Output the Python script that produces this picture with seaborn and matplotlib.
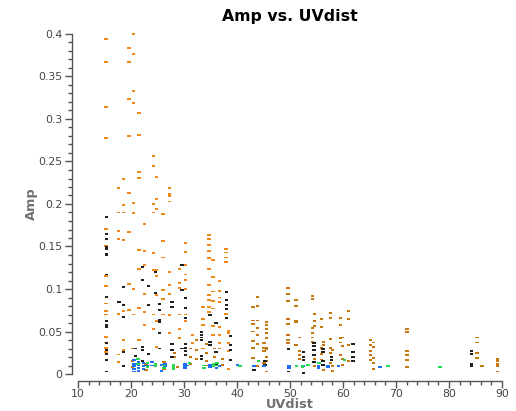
import matplotlib
matplotlib.use("Agg")
import matplotlib.pyplot as plt
from matplotlib.ticker import MultipleLocator, FormatStrFormatter
import seaborn as sns
import pandas as pd

# ---- data ----
uv_orange = ([15.3]*15 + [17.6]*7 + [18.6]*7 + [19.6]*8 + [20.5]*8 + [21.5]*8 + [22.6]*6 +
             [24.3]*8 + [24.8]*8 + [26.0]*6 + [27.3]*9 + [29.1]*6 + [30.3]*8 + [31.6]*2 +
             [33.6]*4 + [34.7]*11 + [35.5]*7 + [36.7]*8 + [37.9]*5 + [38.4]*5)
amp_orange = [0.394, 0.367, 0.314, 0.278, 0.171, 0.151, 0.115, 0.104, 0.083, 0.074, 0.070, 0.044, 0.037, 0.031, 0.026,
              0.219, 0.190, 0.168, 0.159, 0.071, 0.023, 0.014,
              0.229, 0.199, 0.190, 0.158, 0.074, 0.040, 0.028,
              0.384, 0.367, 0.324, 0.280, 0.213, 0.167, 0.106, 0.075,
              0.400, 0.376, 0.333, 0.319, 0.201, 0.189, 0.100, 0.070,
              0.307, 0.281, 0.238, 0.231, 0.146, 0.124, 0.078, 0.040,
              0.176, 0.145, 0.128, 0.094, 0.073, 0.058,
              0.256, 0.245, 0.200, 0.190, 0.142, 0.122, 0.070, 0.053,
              0.232, 0.206, 0.194, 0.122, 0.115, 0.093, 0.062, 0.032,
              0.188, 0.156, 0.137, 0.099, 0.088, 0.070,
              0.219, 0.212, 0.209, 0.203, 0.120, 0.105, 0.094, 0.069, 0.048,
              0.124, 0.107, 0.101, 0.070, 0.053, 0.042,
              0.154, 0.144, 0.128, 0.117, 0.111, 0.100, 0.070, 0.062,
              0.046, 0.036,
              0.079, 0.065, 0.058, 0.030,
              0.164, 0.159, 0.152, 0.145, 0.136, 0.124, 0.105, 0.093, 0.087, 0.079, 0.073,
              0.134, 0.114, 0.097, 0.086, 0.077, 0.056, 0.046,
              0.109, 0.098, 0.090, 0.085, 0.055, 0.046, 0.036, 0.030,
              0.147, 0.143, 0.137, 0.132, 0.071,
              0.051, 0.048, 0.036, 0.027, 0.006]

uv_dark = ([20.3]*3 + [22.8]*2 + [24.5] + [26.2]*2 + [28.2]*2 + [28.8] + [31.2]*3 + [32.4]*3 +
           [34.2]*4 + [35.8]*2 + [37.3]*2 +
           [43.0]*7 + [43.9]*7 + [45.1]*4 + [45.6]*10 + [49.6]*8 + [51.1]*5 + [51.8]*4 +
           [54.2]*6 + [54.6]*5 + [55.9]*5 + [56.3]*3 + [57.6]*6 + [58.0]*3 + [59.5]*5 +
           [59.9]*4 + [61.0]*4 + [65.2]*5 + [65.7]*5 + [72.1]*6 + [85.3]*4 + [86.2] + [89.1]*5)
amp_dark = [0.030, 0.015, 0.008, 0.012, 0.005, 0.010, 0.014, 0.006, 0.025, 0.020, 0.008,
            0.030, 0.020, 0.012, 0.040, 0.028, 0.018,
            0.035, 0.025, 0.015, 0.010, 0.030, 0.020, 0.018, 0.011,
            0.079, 0.063, 0.059, 0.050, 0.039, 0.031, 0.019,
            0.091, 0.080, 0.063, 0.054, 0.046, 0.035, 0.009,
            0.036, 0.031, 0.027, 0.013,
            0.061, 0.058, 0.053, 0.048, 0.042, 0.031, 0.029, 0.020, 0.015, 0.003,
            0.101, 0.094, 0.086, 0.065, 0.059, 0.046, 0.040, 0.036,
            0.087, 0.080, 0.063, 0.061, 0.034,
            0.043, 0.027, 0.022, 0.018,
            0.092, 0.088, 0.054, 0.048, 0.043, 0.038,
            0.071, 0.062, 0.056, 0.018, 0.009,
            0.065, 0.055, 0.031, 0.024, 0.017,
            0.038, 0.034, 0.005,
            0.072, 0.066, 0.041, 0.031, 0.025, 0.013,
            0.028, 0.009, 0.004,
            0.066, 0.058, 0.042, 0.037, 0.022,
            0.043, 0.033, 0.018, 0.011,
            0.074, 0.065, 0.034, 0.015,
            0.040, 0.034, 0.027, 0.022, 0.016,
            0.037, 0.032, 0.019, 0.013, 0.006,
            0.053, 0.049, 0.027, 0.022, 0.016, 0.008,
            0.043, 0.037, 0.025, 0.019,
            0.009,
            0.018, 0.015, 0.012, 0.009, 0.003]

uv_black = ([15.4]*17 + [17.7] + [18.6]*5 + [20.8]*2 + [22.2]*5 + [23.3]*3 + [24.6]*2 +
            [25.4]*6 + [27.7]*5 + [29.6]*3 + [30.3]*7 + [33.3]*6 + [34.9]*3 + [36.0]*3 +
            [38.0]*5 + [38.8]*4 + [43.2] + [45.3]*2 + [49.7]*2 + [52.5]*4 + [54.5]*5 +
            [56.2]*4 + [57.8]*2 + [61.9]*4 + [84.3]*4)
amp_black = [0.185, 0.165, 0.159, 0.149, 0.147, 0.141, 0.140, 0.117, 0.091, 0.062, 0.058, 0.055,
             0.036, 0.028, 0.024, 0.016, 0.003,
             0.085,
             0.102, 0.081, 0.067, 0.026, 0.009,
             0.030, 0.021,
             0.126, 0.111, 0.032, 0.028, 0.015,
             0.104, 0.081, 0.024,
             0.095, 0.120,
             0.082, 0.075, 0.064, 0.061, 0.048, 0.030,
             0.085, 0.079, 0.035, 0.028, 0.020,
             0.128, 0.099, 0.030,
             0.089, 0.078, 0.066, 0.035, 0.031, 0.027, 0.022,
             0.049, 0.043, 0.021, 0.018, 0.040, 0.046,
             0.069, 0.038, 0.034,
             0.060, 0.026, 0.012,
             0.096, 0.087, 0.081, 0.076, 0.066,
             0.045, 0.034, 0.028, 0.016,
             0.005,
             0.015, 0.011,
             0.029, 0.003,
             0.026, 0.020, 0.016, 0.001,
             0.036, 0.033, 0.028, 0.022, 0.014,
             0.029, 0.026, 0.015, 0.011,
             0.020, 0.016,
             0.035, 0.026, 0.020, 0.015,
             0.027, 0.024, 0.012, 0.009]

uv_blue = ([20.6]*5 + [21.4]*4 + [22.4]*3 + [23.0] + [24.0]*2 + [25.8]*2 + [26.4]*2 +
           [30.2]*3 + [30.7] + [34.9]*2 + [36.1]*2 + [36.7] + [40.1] + [43.2] + [45.1] +
           [49.8]*2 + [52.6] + [55.4]*2 + [57.2]*2 + [59.2] + [67.0])
amp_blue = [0.016, 0.012, 0.009, 0.006, 0.003,
            0.014, 0.011, 0.007, 0.004,
            0.013, 0.009, 0.006,
            0.010,
            0.014, 0.010,
            0.011, 0.004,
            0.012, 0.009,
            0.012, 0.009, 0.007,
            0.010,
            0.011, 0.008,
            0.010, 0.007,
            0.009, 0.011, 0.009, 0.009,
            0.007, 0.009, 0.009,
            0.009, 0.007, 0.010, 0.008, 0.009, 0.008]

uv_green = ([21.3]*2 + [23.1]*2 + [24.6]*2 + [26.2]*2 + [28.0]*3 + [31.0] + [33.8]*2 +
            [35.6]*2 + [36.2]*2 + [40.6] + [44.1] + [51.2] + [52.4]*2 + [53.4] + [55.5] +
            [60.3] + [68.5] + [78.3])
amp_green = [0.018, 0.012, 0.013, 0.008, 0.012, 0.009, 0.010, 0.007, 0.011, 0.008, 0.006,
             0.013, 0.010, 0.007, 0.012, 0.009, 0.013, 0.010, 0.009, 0.015, 0.009,
             0.010, 0.008, 0.011, 0.013, 0.016, 0.009, 0.008]

series_names = ["orange", "dark", "black", "blue", "green"]
series_colors = ["#f0891c", "#c57812", "#202020", "#1c6ef2", "#25d84e"]

frames = []
for name, xs, ys in zip(series_names,
                        [uv_orange, uv_dark, uv_black, uv_blue, uv_green],
                        [amp_orange, amp_dark, amp_black, amp_blue, amp_green]):
    frames.append(pd.DataFrame({"UVdist": xs, "Amp": ys, "series": name}))
df = pd.concat(frames, ignore_index=True)

# ---- plot ----
sns.set_style("ticks")
plt.rcParams["font.family"] = ["DejaVu Sans"]

fig = plt.figure(figsize=(5.16, 4.11), dpi=100)
ax = fig.add_axes([78/516, 37/411, (502-78)/516, (374-34)/411])

dash_marker = [(-1, -0.55), (1, -0.55), (1, 0.55), (-1, 0.55), (-1, -0.55)]
sns.scatterplot(data=df, x="UVdist", y="Amp", hue="series",
                palette=dict(zip(series_names, series_colors)),
                marker=dash_marker, s=6, linewidth=0, legend=False, ax=ax, clip_on=False)

ax.set_xlim(10, 90)
ax.set_ylim(0, 0.4)
ax.xaxis.set_major_locator(MultipleLocator(10))
ax.xaxis.set_minor_locator(MultipleLocator(2))
ax.yaxis.set_major_locator(MultipleLocator(0.05))
ax.yaxis.set_minor_locator(MultipleLocator(0.01))
ax.yaxis.set_major_formatter(FormatStrFormatter("%g"))

spine_col = "#555555"
ax.tick_params(which="major", length=5, width=1, color=spine_col,
               labelsize=7.8, labelcolor="#444444")
ax.tick_params(axis="x", which="major", pad=1)
ax.tick_params(axis="y", which="major", pad=2)
ax.tick_params(which="minor", length=3, width=1, color=spine_col)
for s in ax.spines.values():
    s.set_color(spine_col)
    s.set_linewidth(1)

sns.despine(ax=ax, offset={"left": 4.5, "bottom": 5}, trim=True)

ax.set_title("Amp vs. UVdist", fontsize=11.3, fontweight="bold", color="black", pad=9)
ax.set_xlabel("UVdist", fontsize=9.3, fontweight="bold", color="#707070", labelpad=-1)
ax.set_ylabel("Amp", fontsize=9.3, fontweight="bold", color="#707070", labelpad=0)

fig.savefig("out.png", dpi=100)
